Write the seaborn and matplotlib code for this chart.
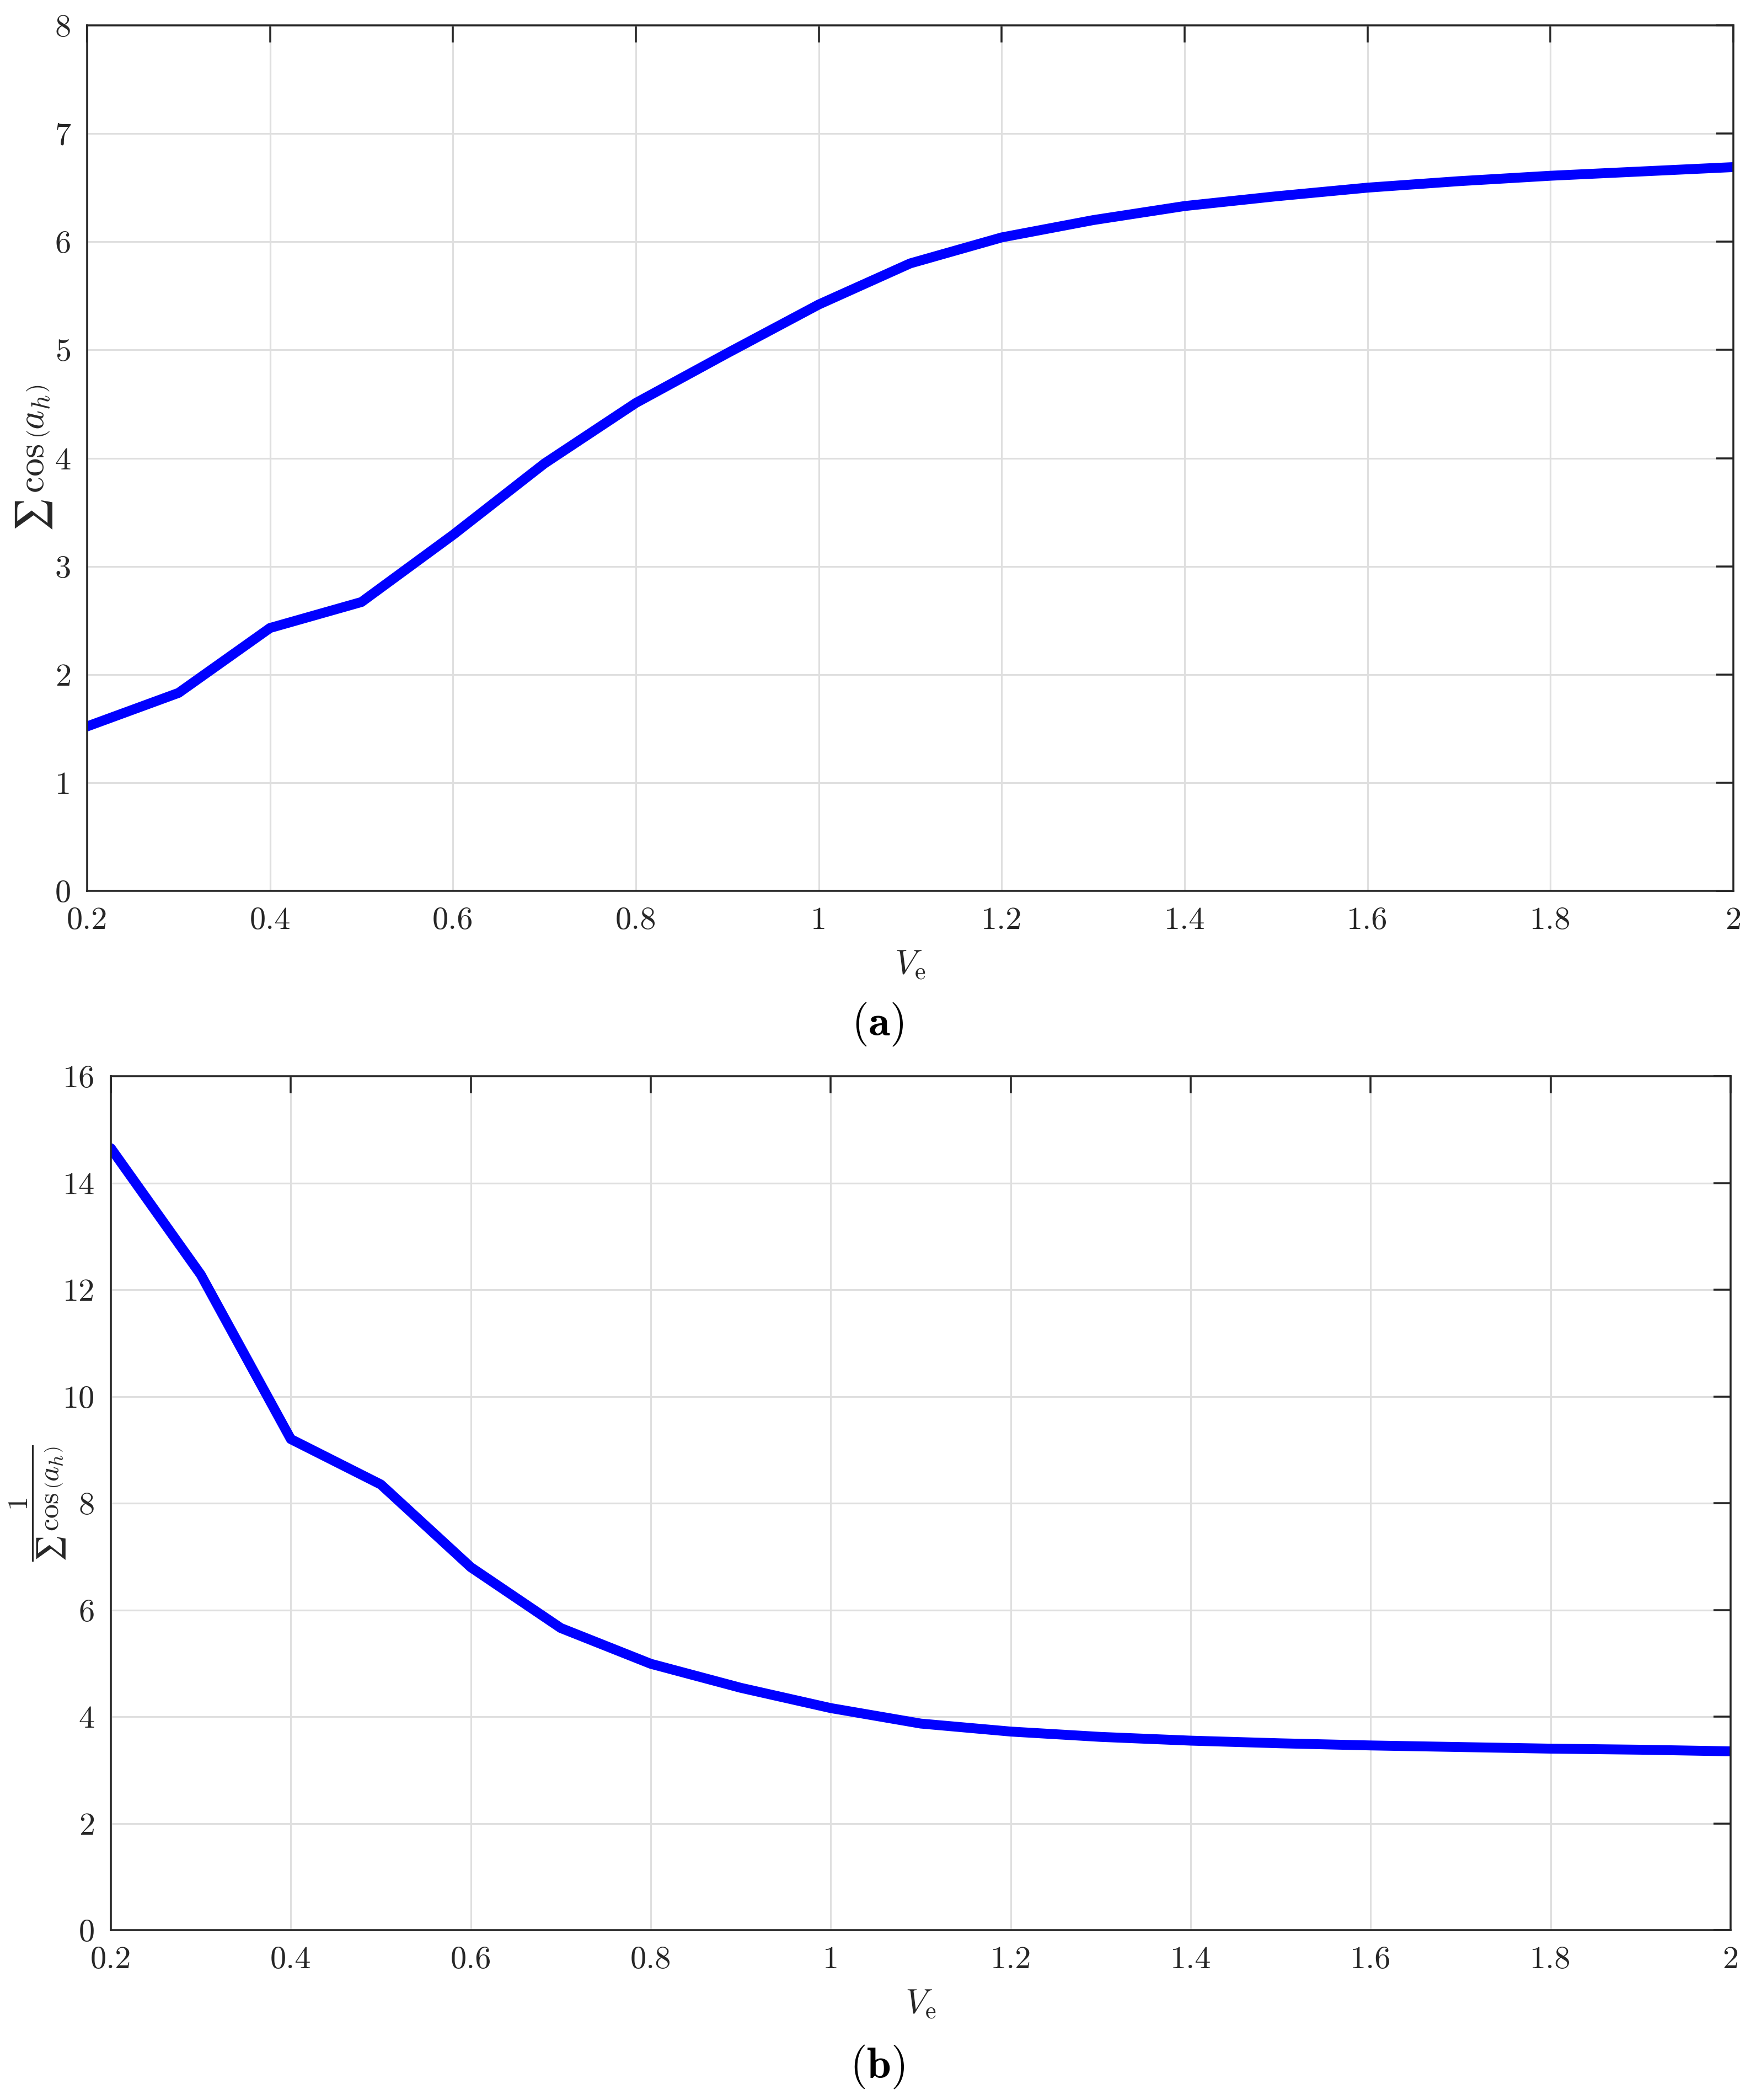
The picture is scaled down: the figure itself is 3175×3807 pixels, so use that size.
import numpy as np
import pandas as pd
import matplotlib
matplotlib.use("Agg")
import matplotlib.pyplot as plt
import seaborn as sns
from matplotlib.ticker import FuncFormatter

# data
ve = [0.2, 0.3, 0.4, 0.5, 0.6, 0.7, 0.8, 0.9, 1.0, 1.1,
      1.2, 1.3, 1.4, 1.5, 1.6, 1.7, 1.8, 1.9, 2.0]
sum_cos = [1.52, 1.83, 2.43, 2.67, 3.29, 3.95, 4.51, 4.97, 5.42, 5.80,
           6.04, 6.20, 6.33, 6.42, 6.50, 6.56, 6.61, 6.65, 6.69]
inv_sum_cos = [14.65, 12.28, 9.20, 8.35, 6.80, 5.66, 4.99, 4.54, 4.16, 3.87,
               3.72, 3.62, 3.55, 3.50, 3.46, 3.43, 3.40, 3.38, 3.35]

x_ticks = [0.2, 0.4, 0.6, 0.8, 1.0, 1.2, 1.4, 1.6, 1.8, 2.0]

sns.set_theme(style="white")
plt.rcParams['font.family'] = ['serif']
plt.rcParams['font.serif'] = ['cmr10', 'DejaVu Serif']
plt.rcParams['mathtext.fontset'] = 'cm'
plt.rcParams['axes.formatter.use_mathtext'] = True

dark = '#262626'
df = pd.DataFrame({'ve': ve, 'a': sum_cos, 'b': inv_sum_cos})

W, H = 3175, 3807
fig = plt.figure(figsize=(W / 300, H / 300), dpi=300)
fig.patch.set_facecolor('white')

ax1 = fig.add_axes([158 / W, 1 - 1615 / H, (3143 - 158) / W, (1615 - 46) / H])
ax2 = fig.add_axes([201 / W, 1 - 3499 / H, (3138 - 201) / W, (3499 - 1951) / H])


def style_axes(ax, ymax, ystep, ylabel, ylab_x, ylab_size):
    ax.set_xlim(0.2, 2.0)
    ax.set_ylim(0, ymax)
    ax.set_xticks(x_ticks)
    ax.set_yticks(np.arange(0, ymax + 0.1, ystep))
    ax.xaxis.set_major_formatter(FuncFormatter(lambda v, p: '%g' % round(v, 2)))
    ax.yaxis.set_major_formatter(FuncFormatter(lambda v, p: '%g' % v))
    ax.grid(True, color='#dfdfdf', linewidth=0.75)
    ax.set_axisbelow(True)
    for s in ax.spines.values():
        s.set_visible(True)
        s.set_color(dark)
        s.set_linewidth(0.85)
    ax.tick_params(direction='in', length=7.4, width=0.85, colors=dark,
                   labelsize=14, top=True, right=True, pad=7)
    ax.set_xlabel(r'$V_{\mathrm{e}}$', fontsize=15, color=dark, labelpad=6)
    ax.set_ylabel(ylabel, fontsize=ylab_size, color=dark)
    ax.yaxis.set_label_coords(ylab_x, 0.5)


sns.lineplot(data=df, x='ve', y='a', ax=ax1, color='#0000ff', linewidth=4.3)
style_axes(ax1, 8, 1, '$\u2211\\,\\cos\\left(a_h\\right)$', -0.020, 16)

sns.lineplot(data=df, x='ve', y='b', ax=ax2, color='#0000ff', linewidth=4.3)
style_axes(ax2, 16, 2, '$\\dfrac{1}{\u2211\\,\\cos\\left(a_h\\right)}$', -0.027, 12.5)

fig.text(0.501, 1 - 1857 / H, r'$(\mathbf{a})$', ha='center', va='center',
         fontsize=19, color='black')
fig.text(0.501, 1 - 3747 / H, r'$(\mathbf{b})$', ha='center', va='center',
         fontsize=19, color='black')

fig.savefig('out.png', dpi=300, facecolor='white')
